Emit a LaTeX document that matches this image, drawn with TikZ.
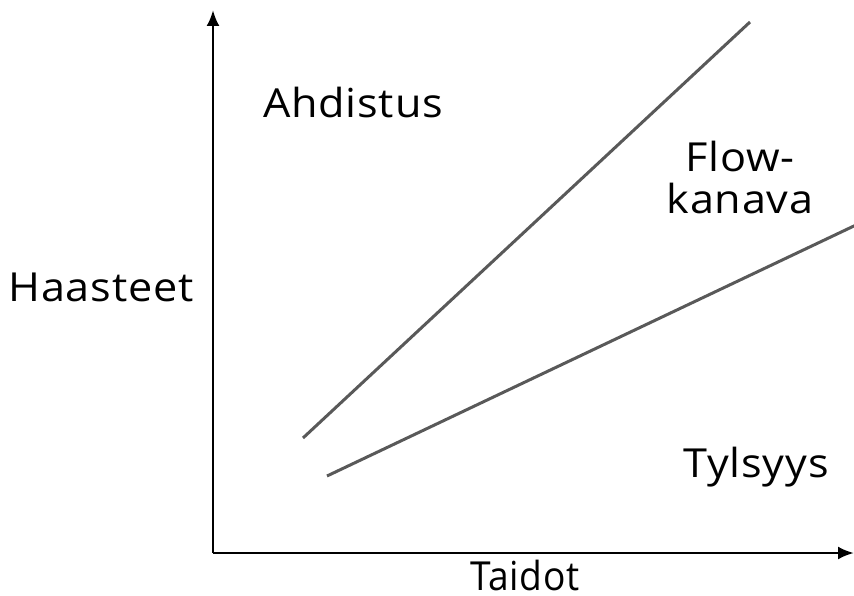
\documentclass[tikz,border=0pt]{standalone}
\usepackage{fontspec}
\setmainfont{Open Sans}[FakeStretch=1.08,LetterSpace=2]
\usetikzlibrary{arrows.meta}
\begin{document}
\begin{tikzpicture}[x=1pt,y=-1pt,
  axis/.style={line width=2.6pt,-{Latex[length=16pt,width=13pt]}},
  zone/.style={draw=black!65,line width=3pt},
  lbl/.style={font=\fontsize{40}{42}\selectfont,inner sep=0pt,align=center}]
\useasboundingbox (0,0) rectangle (854,596);
\coordinate (o) at (213,553);
\coordinate (ytop) at (213,10);
\coordinate (xend) at (854,553);
\draw[axis] (o) -- (ytop);
\draw[axis] (o) -- (xend);
\coordinate (a1) at (303,438);
\coordinate (a2) at (750,22);
\coordinate (b1) at (327,476);
\coordinate (b2) at (856,225);
\draw[zone] (a1) -- (a2);
\draw[zone] (b1) -- (b2);
\node[lbl] (ahd) at (353,103) {Ahdistus};
\node[lbl] (haa) at (101,287) {Haasteet};
\node[lbl] (flow) at (740,178) {Flow-\\kanava};
\node[lbl] (tyl) at (756,467) {Tylsyys};
\node[lbl,anchor=base] (tai) at (525,590) {\scalebox{0.86}[1]{Taidot}};
\end{tikzpicture}
\end{document}
